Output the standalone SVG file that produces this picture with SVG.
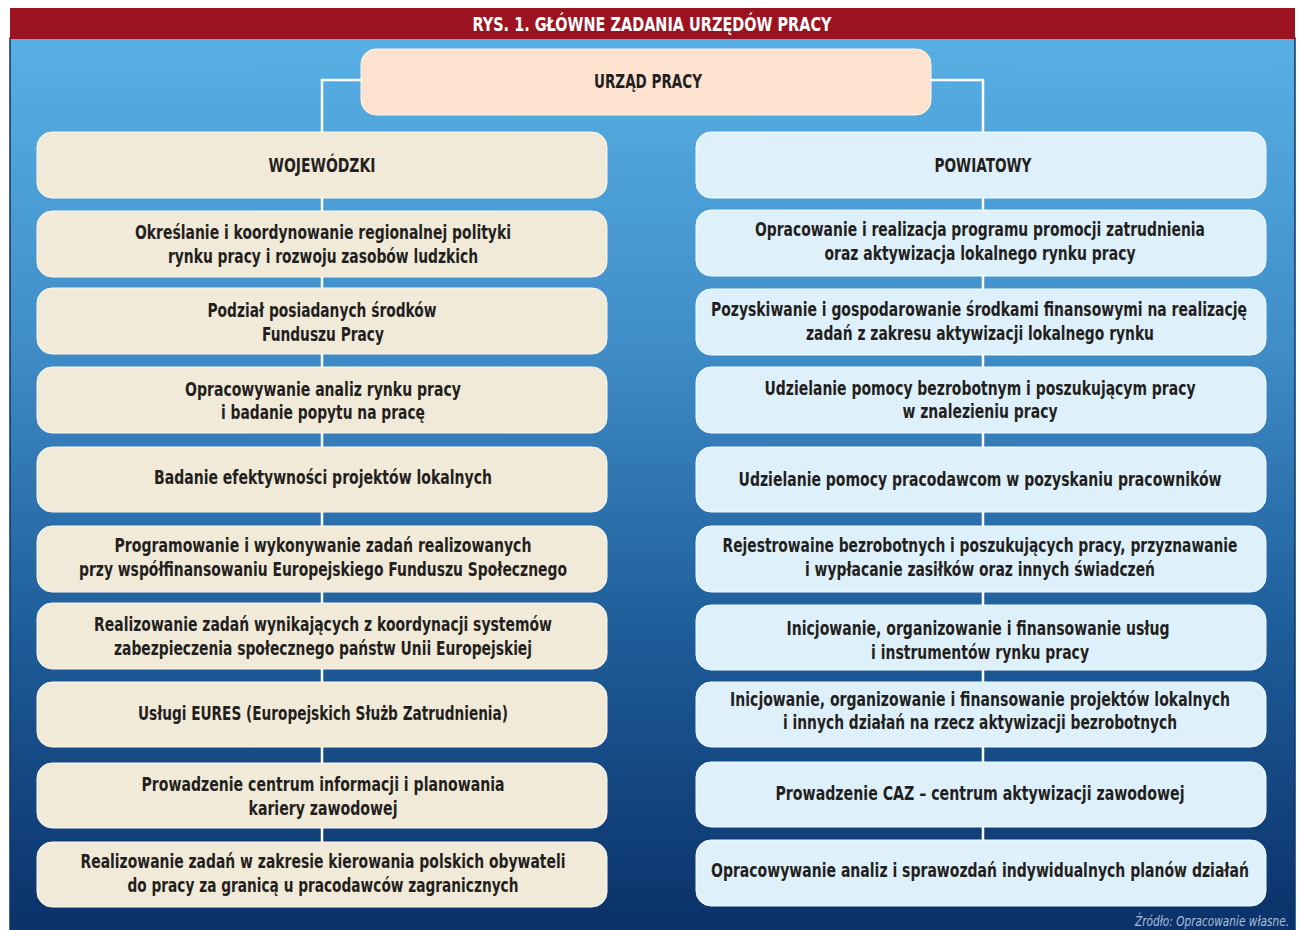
<svg xmlns="http://www.w3.org/2000/svg" width="1299" height="930" viewBox="0 0 1299 930">
<defs>
<linearGradient id="bg" x1="0" y1="38" x2="0" y2="930" gradientUnits="userSpaceOnUse">
<stop offset="0" stop-color="#58b0e5"/>
<stop offset="0.35" stop-color="#3f8cc6"/>
<stop offset="0.65" stop-color="#1f5f9c"/>
<stop offset="1" stop-color="#0b3169"/>
</linearGradient>
<style>
.t{font-family:"DejaVu Sans Condensed","DejaVu Sans",sans-serif;font-weight:bold;font-size:20px;fill:#231f20;text-anchor:middle}
.w{fill:#f2ead8;stroke:#fbf7ee;stroke-width:1}
.p{fill:#def1fb;stroke:#f2fbff;stroke-width:1}
.c{fill:none;stroke:#ffffff;stroke-width:2.5}
</style>
</defs>
<rect x="0" y="0" width="1299" height="930" fill="#ffffff"/>
<rect x="10" y="38" width="1285" height="892" fill="url(#bg)" stroke="#0d3766" stroke-width="1.5"/>
<rect x="10" y="8" width="1285" height="31" fill="#9b1320"/>
<text x="652" y="31" class="t" style="fill:#ffffff" textLength="359" lengthAdjust="spacingAndGlyphs">RYS. 1. GŁÓWNE ZADANIA URZĘDÓW PRACY</text>

<g id="connectors">
<path class="c" d="M361,80 H322 V842"/>
<path class="c" d="M931,80 H983 V840"/>
</g>

<g id="n-urzad">
<rect x="361" y="49" width="570" height="66" rx="15" fill="#fde3cf" stroke="#fff4ea" stroke-width="1"/>
<text x="648" y="88" class="t" textLength="108" lengthAdjust="spacingAndGlyphs">URZĄD PRACY</text>
</g>

<g id="n-woj">
<rect class="w" x="37" y="132" width="570" height="66" rx="15"/>
<text x="322" y="172" class="t" textLength="107" lengthAdjust="spacingAndGlyphs">WOJEWÓDZKI</text>
</g>
<g id="n-pow">
<rect class="p" x="696" y="132" width="570" height="66" rx="15"/>
<text x="983" y="172" class="t" textLength="97" lengthAdjust="spacingAndGlyphs">POWIATOWY</text>
</g>

<g id="n-w1">
<rect class="w" x="37" y="211" width="570" height="66" rx="15"/>
<text x="323" y="239" class="t" textLength="376" lengthAdjust="spacingAndGlyphs">Określanie i koordynowanie regionalnej polityki</text>
<text x="323" y="263" class="t" textLength="310" lengthAdjust="spacingAndGlyphs">rynku pracy i rozwoju zasobów ludzkich</text>
</g>
<g id="n-w2">
<rect class="w" x="37" y="288" width="570" height="66" rx="15"/>
<text x="322" y="317" class="t" textLength="229" lengthAdjust="spacingAndGlyphs">Podział posiadanych środków</text>
<text x="323" y="341" class="t" textLength="122" lengthAdjust="spacingAndGlyphs">Funduszu Pracy</text>
</g>
<g id="n-w3">
<rect class="w" x="37" y="367" width="570" height="66" rx="15"/>
<text x="323" y="396" class="t" textLength="276" lengthAdjust="spacingAndGlyphs">Opracowywanie analiz rynku pracy</text>
<text x="323" y="419" class="t" textLength="204" lengthAdjust="spacingAndGlyphs">i badanie popytu na pracę</text>
</g>
<g id="n-w4">
<rect class="w" x="37" y="447" width="570" height="65" rx="15"/>
<text x="323" y="484" class="t" textLength="338" lengthAdjust="spacingAndGlyphs">Badanie efektywności projektów lokalnych</text>
</g>
<g id="n-w5">
<rect class="w" x="37" y="526" width="570" height="66" rx="15"/>
<text x="323" y="552" class="t" textLength="417" lengthAdjust="spacingAndGlyphs">Programowanie i wykonywanie zadań realizowanych</text>
<text x="323" y="576" class="t" textLength="488" lengthAdjust="spacingAndGlyphs">przy współfinansowaniu Europejskiego Funduszu Społecznego</text>
</g>
<g id="n-w6">
<rect class="w" x="37" y="603" width="570" height="66" rx="15"/>
<text x="323" y="631" class="t" textLength="458" lengthAdjust="spacingAndGlyphs">Realizowanie zadań wynikających z koordynacji systemów</text>
<text x="323" y="655" class="t" textLength="418" lengthAdjust="spacingAndGlyphs">zabezpieczenia społecznego państw Unii Europejskiej</text>
</g>
<g id="n-w7">
<rect class="w" x="37" y="682" width="570" height="65" rx="15"/>
<text x="323" y="720" class="t" textLength="370" lengthAdjust="spacingAndGlyphs">Usługi EURES (Europejskich Służb Zatrudnienia)</text>
</g>
<g id="n-w8">
<rect class="w" x="37" y="763" width="570" height="65" rx="15"/>
<text x="323" y="791" class="t" textLength="363" lengthAdjust="spacingAndGlyphs">Prowadzenie centrum informacji i planowania</text>
<text x="323" y="815" class="t" textLength="149" lengthAdjust="spacingAndGlyphs">kariery zawodowej</text>
</g>
<g id="n-w9">
<rect class="w" x="37" y="842" width="570" height="65" rx="15"/>
<text x="323" y="868" class="t" textLength="485" lengthAdjust="spacingAndGlyphs">Realizowanie zadań w zakresie kierowania polskich obywateli</text>
<text x="323" y="892" class="t" textLength="391" lengthAdjust="spacingAndGlyphs">do pracy za granicą u pracodawców zagranicznych</text>
</g>

<g id="n-p1">
<rect class="p" x="696" y="210" width="570" height="66" rx="15"/>
<text x="980" y="236" class="t" textLength="450" lengthAdjust="spacingAndGlyphs">Opracowanie i realizacja programu promocji zatrudnienia</text>
<text x="980" y="260" class="t" textLength="311" lengthAdjust="spacingAndGlyphs">oraz aktywizacja lokalnego rynku pracy</text>
</g>
<g id="n-p2">
<rect class="p" x="696" y="289" width="570" height="66" rx="15"/>
<text x="979" y="316" class="t" textLength="536" lengthAdjust="spacingAndGlyphs">Pozyskiwanie i gospodarowanie środkami finansowymi na realizację</text>
<text x="980" y="340" class="t" textLength="348" lengthAdjust="spacingAndGlyphs">zadań z zakresu aktywizacji lokalnego rynku</text>
</g>
<g id="n-p3">
<rect class="p" x="696" y="367" width="570" height="66" rx="15"/>
<text x="980" y="395" class="t" textLength="431" lengthAdjust="spacingAndGlyphs">Udzielanie pomocy bezrobotnym i poszukującym pracy</text>
<text x="980" y="418" class="t" textLength="155" lengthAdjust="spacingAndGlyphs">w znalezieniu pracy</text>
</g>
<g id="n-p4">
<rect class="p" x="696" y="447" width="570" height="65" rx="15"/>
<text x="980" y="486" class="t" textLength="483" lengthAdjust="spacingAndGlyphs">Udzielanie pomocy pracodawcom w pozyskaniu pracowników</text>
</g>
<g id="n-p5">
<rect class="p" x="696" y="526" width="570" height="66" rx="15"/>
<text x="980" y="552" class="t" textLength="515" lengthAdjust="spacingAndGlyphs">Rejestrowaine bezrobotnych i poszukujących pracy, przyznawanie</text>
<text x="980" y="576" class="t" textLength="350" lengthAdjust="spacingAndGlyphs">i wypłacanie zasiłków oraz innych świadczeń</text>
</g>
<g id="n-p6">
<rect class="p" x="696" y="605" width="570" height="65" rx="15"/>
<text x="978" y="635" class="t" textLength="383" lengthAdjust="spacingAndGlyphs">Inicjowanie, organizowanie i finansowanie usług</text>
<text x="980" y="659" class="t" textLength="218" lengthAdjust="spacingAndGlyphs">i instrumentów rynku pracy</text>
</g>
<g id="n-p7">
<rect class="p" x="696" y="682" width="570" height="65" rx="15"/>
<text x="980" y="706" class="t" textLength="500" lengthAdjust="spacingAndGlyphs">Inicjowanie, organizowanie i finansowanie projektów lokalnych</text>
<text x="980" y="729" class="t" textLength="394" lengthAdjust="spacingAndGlyphs">i innych działań na rzecz aktywizacji bezrobotnych</text>
</g>
<g id="n-p8">
<rect class="p" x="696" y="762" width="570" height="65" rx="15"/>
<text x="980" y="800" class="t" textLength="409" lengthAdjust="spacingAndGlyphs">Prowadzenie CAZ – centrum aktywizacji zawodowej</text>
</g>
<g id="n-p9">
<rect class="p" x="696" y="840" width="570" height="66" rx="15"/>
<text x="980" y="877" class="t" textLength="538" lengthAdjust="spacingAndGlyphs">Opracowywanie analiz i sprawozdań indywidualnych planów działań</text>
</g>

<text x="1289" y="926" style="font-family:'DejaVu Sans Condensed','DejaVu Sans',sans-serif;font-style:italic;font-size:14px;fill:#a9bfd6;text-anchor:end" textLength="154" lengthAdjust="spacingAndGlyphs">Źródło: Opracowanie własne.</text>
</svg>
